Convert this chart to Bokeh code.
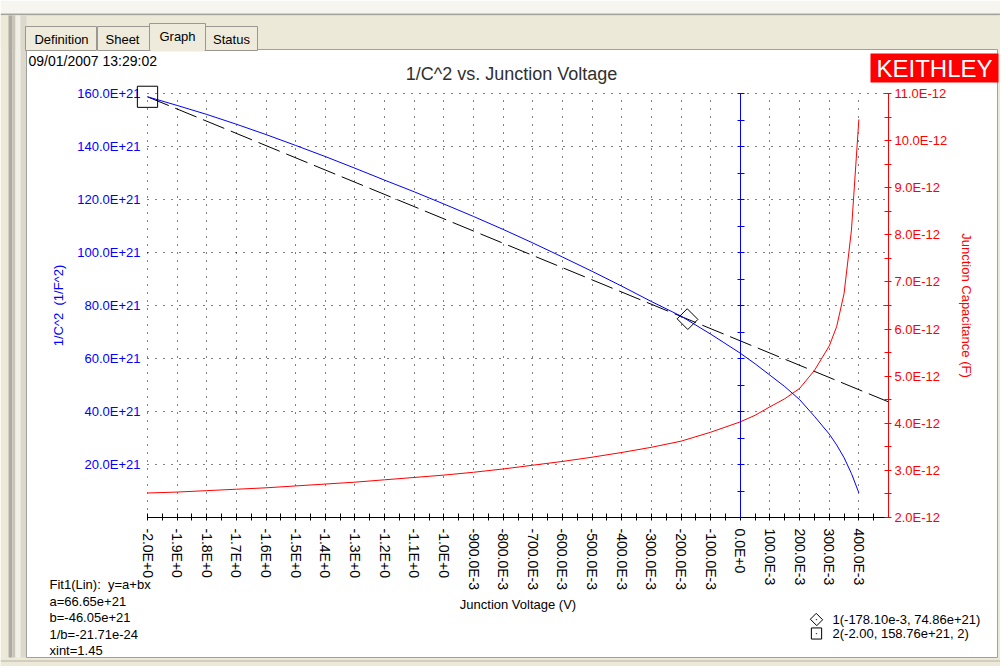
from bokeh.plotting import figure
from bokeh.models import (Range1d, LinearAxis, FixedTicker, Label, BoxAnnotation,
                          Grid, CustomJSTickFormatter)
from bokeh.embed import file_html
from bokeh.resources import INLINE

# ---------------- data ----------------
voltage = [-2.0, -1.9, -1.8, -1.7, -1.6, -1.5, -1.4, -1.3, -1.2, -1.1, -1.0,
           -0.9, -0.8, -0.7, -0.6, -0.5, -0.4, -0.3, -0.2, -0.1, 0.0,
           0.05, 0.1, 0.15, 0.2, 0.25, 0.3, 0.325, 0.35, 0.375, 0.4]
inv_c2_e21 = [158.76, 155.5, 152.1, 148.4, 144.5, 140.4, 136.2, 131.8, 127.3, 122.9, 118.3,
              113.6, 108.7, 103.6, 98.3, 92.9, 87.3, 81.5, 76.0, 69.2, 62.0,
              58.0, 53.7, 49.4, 44.5, 38.2, 31.5, 27.4, 22.6, 16.6, 9.3]
cap_pF = [2.52, 2.54, 2.57, 2.60, 2.63, 2.67, 2.71, 2.75, 2.80, 2.85, 2.90,
          2.96, 3.03, 3.11, 3.19, 3.28, 3.38, 3.49, 3.62, 3.81, 4.03,
          4.17, 4.35, 4.52, 4.74, 5.12, 5.64, 6.05, 6.75, 8.1, 10.45]
fit_voltage = [-2.0, 0.5]
fit_inv_c2_e21 = [158.75, 43.63]
cursor_voltage = [-0.1781, -2.0]
cursor_inv_c2_e21 = [74.86, 158.76]

x_ticks = [-2.0, -1.9, -1.8, -1.7, -1.6, -1.5, -1.4, -1.3, -1.2, -1.1, -1.0,
           -0.9, -0.8, -0.7, -0.6, -0.5, -0.4, -0.3, -0.2, -0.1, 0.0, 0.1, 0.2, 0.3, 0.4]
x_tick_labels = ["-2.0E+0", "-1.9E+0", "-1.8E+0", "-1.7E+0", "-1.6E+0", "-1.5E+0",
                 "-1.4E+0", "-1.3E+0", "-1.2E+0", "-1.1E+0", "-1.0E+0",
                 "-900.0E-3", "-800.0E-3", "-700.0E-3", "-600.0E-3", "-500.0E-3",
                 "-400.0E-3", "-300.0E-3", "-200.0E-3", "-100.0E-3", "0.0E+0",
                 "100.0E-3", "200.0E-3", "300.0E-3", "400.0E-3"]
x_minor_ticks = [-1.95, -1.85, -1.75, -1.65, -1.55, -1.45, -1.35, -1.25, -1.15, -1.05,
                 -0.95, -0.85, -0.75, -0.65, -0.55, -0.45, -0.35, -0.25, -0.15, -0.05,
                 0.05, 0.15, 0.25, 0.35, 0.45]
y_ticks = [20, 40, 60, 80, 100, 120, 140, 160]
y_tick_labels = ["20.0E+21", "40.0E+21", "60.0E+21", "80.0E+21", "100.0E+21",
                 "120.0E+21", "140.0E+21", "160.0E+21"]
y_axis_ticks = [10, 20, 30, 40, 50, 60, 70, 80, 90, 100, 110, 120, 130, 140, 150, 160]
cap_ticks = [2, 3, 4, 5, 6, 7, 8, 9, 10, 11]
cap_tick_labels = ["2.0E-12", "3.0E-12", "4.0E-12", "5.0E-12", "6.0E-12", "7.0E-12",
                   "8.0E-12", "9.0E-12", "10.0E-12", "11.0E-12"]
cap_minor_ticks = [2.5, 3.5, 4.5, 5.5, 6.5, 7.5, 8.5, 9.5, 10.5]

fit_text = ["Fit1(Lin):\u00a0 y=a+bx", "a=66.65e+21", "b=-46.05e+21", "1/b=-21.71e-24", "xint=1.45"]
cursor_text = ["1(-178.10e-3, 74.86e+21)", "2(-2.00, 158.76e+21, 2)"]
tab_names = ["Definition", "Sheet", "Graph", "Status"]
title_text = "1/C^2 vs. Junction Voltage"
date_text = "09/01/2007 13:29:02"

# ---------------- layout / style ----------------
FONT = "Liberation Sans"
BLUE = "#0000ff"
RED = "#ff0000"
W, H = 1000, 666
# pixel positions of the plot area (page coordinates)
PX_LEFT, PX_RIGHT, PX_TOP, PX_BOTTOM = 147, 888, 93, 517
X_MIN, X_MAX = -2.0, 0.5
Y_MIN, Y_MAX = 0.0, 160.0
C_MIN, C_MAX = 2.0, 11.0

ppx = (PX_RIGHT - PX_LEFT) / (X_MAX - X_MIN)
ppy = (PX_BOTTOM - PX_TOP) / (Y_MAX - Y_MIN)
ppc = (PX_BOTTOM - PX_TOP) / (C_MAX - C_MIN)


def sx(X):
    return X


def sy(Y):
    return H - Y


def fmt(vals, labs):
    return CustomJSTickFormatter(args=dict(vals=vals, labs=labs), code="""
        for (let i = 0; i < vals.length; i++) {
            if (Math.abs(vals[i] - tick) < 1e-6) { return labs[i]; }
        }
        return "";
    """)


p = figure(width=W, height=H, output_backend="svg", toolbar_location=None, title=None,
           x_range=Range1d(X_MIN - PX_LEFT / ppx, X_MAX + (W - PX_RIGHT) / ppx),
           y_range=Range1d(Y_MIN - (H - PX_BOTTOM) / ppy, Y_MAX + PX_TOP / ppy),
           x_axis_type=None, y_axis_type=None,
           min_border=0, min_border_left=0, min_border_right=0,
           min_border_top=0, min_border_bottom=0,
           background_fill_color="white", border_fill_color="white")
p.outline_line_color = None
p.extra_y_ranges = {"cap": Range1d(C_MIN - (H - PX_BOTTOM) / ppc, C_MAX + PX_TOP / ppc)}


# ---------------- window chrome ----------------
def rect(X1, Y1, X2, Y2, fill, line=None):
    p.add_layout(BoxAnnotation(left=sx(X1), right=sx(X2), top=sy(Y1), bottom=sy(Y2),
                               left_units="screen", right_units="screen",
                               top_units="screen", bottom_units="screen",
                               fill_color=fill, fill_alpha=1.0,
                               line_color=line, line_alpha=1.0, line_width=1,
                               level="underlay"))


rect(0, 0, 1002, 13, "#f6f5f0")
rect(0, 13, 1002, 15, "#a5a49c")
rect(0, 15, 1002, 49, "#ece9d8")
rect(0, 15, 8, 668, "#ece9d8")
rect(8, 15, 12, 668, "#aeaba0")
rect(12, 15, 15, 668, "#c8c5b8")
rect(15, 15, 20, 668, "#f0efe8")
rect(20, 15, 26, 668, "#dcd9cc")
rect(997, 15, 1002, 668, "#ece9d8")
rect(0, 657, 1002, 668, "#ece9d8")
rect(0, 660, 1002, 661, "#b5b2a5")
rect(26, 49, 997, 657, None, "#a0a0a0")
tab_boxes = [(25, 26, 96, 50), (97, 26, 149, 50), (149, 23, 205, 50), (205, 26, 257, 50)]
for (X1, Y1, X2, Y2) in tab_boxes:
    rect(X1, Y1, X2, Y2, "#eeebdd", "#9a9890")
rect(150, 48, 204, 51, "#eeebdd")
rect(870, 53, 998, 82, RED)

# ---------------- grids ----------------
xt = FixedTicker(ticks=x_ticks, minor_ticks=x_minor_ticks)
gx = Grid(dimension=0, ticker=xt, bounds=(X_MIN - 0.001, X_MAX + 0.001),
          cross_bounds=(Y_MIN, Y_MAX))
gy = Grid(dimension=1, ticker=FixedTicker(ticks=y_ticks), bounds=(Y_MIN - 0.01, Y_MAX + 0.01),
          cross_bounds=(X_MIN, X_MAX))
for g in (gx, gy):
    g.grid_line_color = "black"
    g.grid_line_dash = "1 7"
    g.grid_line_width = 1
    p.add_layout(g)

# ---------------- axes ----------------
xaxis = LinearAxis(fixed_location=Y_MIN, bounds=(X_MIN, X_MAX), ticker=xt,
                   formatter=fmt(x_ticks, x_tick_labels), axis_label="Junction Voltage (V)")
xaxis.axis_line_color = "black"
xaxis.major_tick_line_color = "black"
xaxis.minor_tick_line_color = "black"
xaxis.major_tick_in, xaxis.major_tick_out = 4, 3
xaxis.minor_tick_in, xaxis.minor_tick_out = 4, 3
xaxis.major_label_orientation = "vertical"
xaxis.major_label_standoff = 8
xaxis.major_label_text_font = FONT
xaxis.major_label_text_font_size = "14px"
xaxis.major_label_text_color = "black"
xaxis.axis_label_text_font = FONT
xaxis.axis_label_text_font_size = "13px"
xaxis.axis_label_text_font_style = "normal"
xaxis.axis_label_text_color = "black"
xaxis.axis_label_standoff = 4
p.add_layout(xaxis, "below")

ylab = LinearAxis(fixed_location=X_MIN, bounds=(Y_MIN, Y_MAX),
                  ticker=FixedTicker(ticks=y_ticks), formatter=fmt(y_ticks, y_tick_labels),
                  axis_label="1/C^2\u00a0 (1/F^2)")
ylab.axis_line_color = None
ylab.major_tick_line_color = None
ylab.minor_tick_line_color = None
ylab.major_tick_in, ylab.major_tick_out = 0, 0
ylab.minor_tick_in, ylab.minor_tick_out = 0, 0
ylab.major_label_standoff = 7
ylab.major_label_text_font = FONT
ylab.major_label_text_font_size = "13px"
ylab.major_label_text_color = BLUE
ylab.axis_label_text_font = FONT
ylab.axis_label_text_font_size = "13px"
ylab.axis_label_text_font_style = "normal"
ylab.axis_label_text_color = BLUE
ylab.axis_label_standoff = 8
p.add_layout(ylab, "left")

yzero = LinearAxis(fixed_location=0, bounds=(Y_MIN, Y_MAX),
                   ticker=FixedTicker(ticks=y_axis_ticks), formatter=fmt([], []))
yzero.axis_line_color = BLUE
yzero.major_tick_line_color = BLUE
yzero.minor_tick_line_color = None
yzero.major_tick_in, yzero.major_tick_out = 4, 3
yzero.major_label_text_font_size = "0px"
p.add_layout(yzero, "left")

yr = LinearAxis(y_range_name="cap", fixed_location=X_MAX, bounds=(C_MIN, C_MAX),
                ticker=FixedTicker(ticks=cap_ticks, minor_ticks=cap_minor_ticks),
                formatter=fmt(cap_ticks, cap_tick_labels),
                axis_label="Junction Capacitance (F)")
yr.axis_line_color = RED
yr.major_tick_line_color = RED
yr.minor_tick_line_color = RED
yr.major_tick_in, yr.major_tick_out = 4, 3
yr.minor_tick_in, yr.minor_tick_out = 4, 3
yr.major_label_standoff = 3
yr.major_label_text_font = FONT
yr.major_label_text_font_size = "13px"
yr.major_label_text_color = RED
yr.axis_label_text_font = FONT
yr.axis_label_text_font_size = "13px"
yr.axis_label_text_font_style = "normal"
yr.axis_label_text_color = RED
yr.axis_label_standoff = 9
p.add_layout(yr, "right")

# ---------------- data lines ----------------
p.line(fit_voltage, fit_inv_c2_e21, line_color="black", line_width=1, line_dash="23 7")
p.line(voltage, cap_pF, y_range_name="cap", line_color=RED, line_width=1)
p.line(voltage, inv_c2_e21, line_color=BLUE, line_width=1)


def box_marker(x, y, pad, angle, units="data"):
    p.add_layout(Label(x=x, y=y, x_units=units, y_units=units, text=" ",
                       text_font=FONT, text_font_size="1px",
                       text_align="center", text_baseline="middle",
                       angle=angle, angle_units="deg",
                       border_line_color="black", border_line_width=1, padding=pad))


box_marker(cursor_voltage[0], cursor_inv_c2_e21[0], 7, 45)
box_marker(cursor_voltage[1], cursor_inv_c2_e21[1], 10, 0)


def txt(s, X, Y, size=13, color="black", align="left"):
    p.add_layout(Label(x=sx(X), y=sy(Y), x_units="screen", y_units="screen", text=s,
                       text_font=FONT, text_font_size=f"{size}px",
                       text_color=color, text_align=align, text_baseline="middle"))


# ---------------- texts ----------------
tab_centers = [(61, 39), (122, 39), (177, 36), (231, 39)]
for name, (X, Y) in zip(tab_names, tab_centers):
    txt(name, X, Y, 13, "black", "center")

txt(title_text, 511, 73, 18, "#303030", "center")
txt(date_text, 28, 60, 14)
txt("KEITHLEY", 934, 68, 24, "white", "center")

for i, line in enumerate(fit_text):
    txt(line, 49, [584, 601, 617, 634, 650][i], 13)

for i, line in enumerate(cursor_text):
    txt(line, 832, [619, 633][i], 13)

box_marker(sx(816), sy(619), 4, 45, "screen")
box_marker(sx(816), sy(633), 5, 0, "screen")
txt("·", 816, 619, 10, "black", "center")
txt("·", 816, 633, 10, "black", "center")

open("out.html", "w").write(file_html(p, INLINE))
